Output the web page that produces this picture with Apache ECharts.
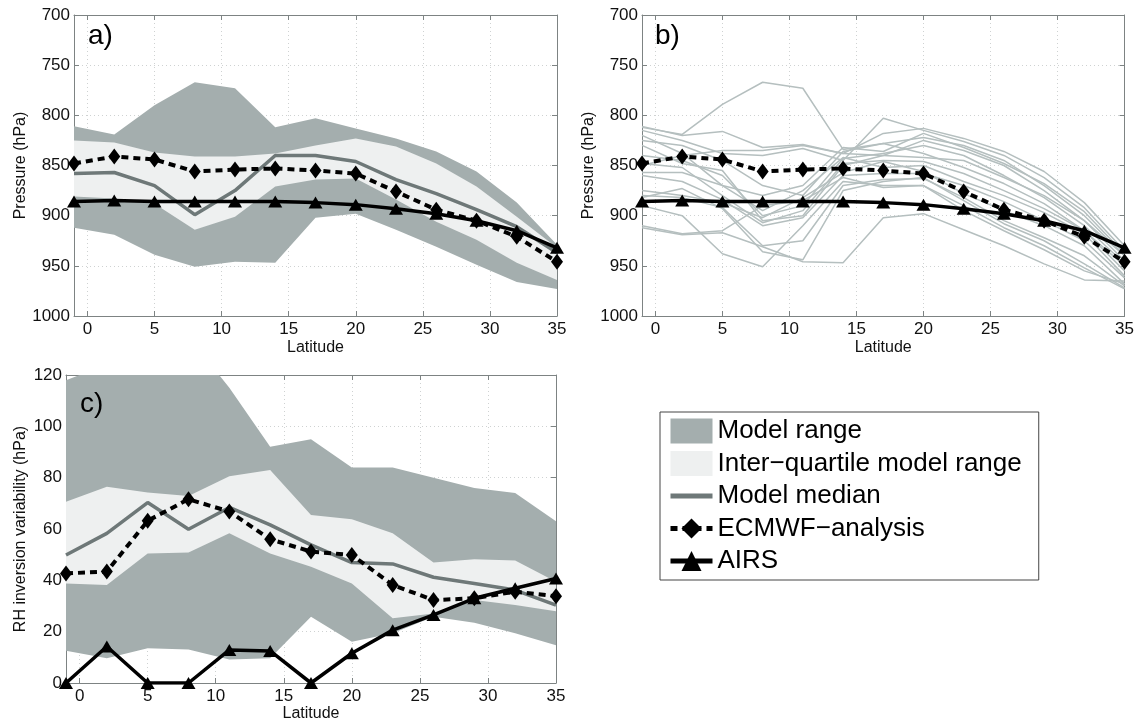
<!DOCTYPE html>
<html><head><meta charset="utf-8">
<script src="https://cdn.jsdelivr.net/npm/echarts@6/dist/echarts.min.js"></script>
<style>html,body{margin:0;padding:0;background:#fff}#c{width:1137px;height:724px}</style>
</head><body><div id="c"></div>
<script>
// ---------- data ----------
const lat = [-1, 2, 5, 8, 11, 14, 17, 20, 23, 26, 29, 32, 35];
const xTicks = [0, 5, 10, 15, 20, 25, 30, 35];

// panel a: inversion pressure (hPa)
const aRangeTop    = [811, 819, 790, 767, 773, 812, 803, 813, 823, 836, 856, 887, 929];
const aRangeBottom = [912, 919, 939, 951, 946, 947, 902, 898, 914, 931, 949, 966, 973];
const aIqrTop      = [825, 827, 837, 841, 841, 838, 830, 823, 831, 848, 871, 901, 932];
const aIqrBottom   = [881, 883, 888, 914, 901, 871, 864, 863, 884, 906, 924, 947, 964];
const aMedian      = [858, 857, 870, 899, 875, 840, 840, 846, 864, 878, 894, 911, 937];
const ecmwfP       = [848, 841, 844, 856, 854, 853, 855, 858, 876, 894, 905, 921, 946];
const airsP        = [886, 885, 886, 886, 886, 886, 887, 889, 893, 898, 905, 915, 932];

// panel b: individual models (hPa)
const modelLines = [
  [812, 819, 789, 767, 773, 834, 828, 838, 852, 868, 888, 915, 950],
  [912, 919, 917, 931, 946, 947, 902, 898, 914, 930, 948, 964, 965],
  [811, 820, 816, 832, 829, 838, 818, 813, 823, 836, 856, 887, 930],
  [815, 825, 838, 840, 833, 845, 803, 815, 826, 840, 862, 892, 935],
  [825, 830, 845, 870, 880, 836, 828, 822, 830, 845, 870, 900, 940],
  [830, 848, 855, 905, 900, 850, 840, 825, 835, 850, 875, 905, 945],
  [840, 845, 860, 900, 890, 843, 838, 830, 840, 860, 882, 910, 948],
  [848, 852, 880, 907, 895, 848, 845, 846, 858, 875, 893, 915, 955],
  [857, 857, 870, 895, 875, 842, 852, 850, 866, 880, 897, 918, 960],
  [860, 866, 884, 910, 902, 860, 858, 858, 870, 886, 905, 925, 962],
  [875, 880, 887, 902, 882, 857, 846, 856, 878, 895, 910, 930, 968],
  [880, 882, 892, 930, 925, 870, 864, 863, 882, 905, 922, 940, 970],
  [882, 873, 893, 936, 944, 875, 866, 862, 885, 908, 925, 948, 972],
  [890, 900, 938, 951, 910, 866, 870, 870, 890, 912, 930, 952, 973],
  [910, 918, 915, 890, 885, 862, 872, 870, 895, 915, 934, 955, 968],
  [850, 840, 835, 835, 830, 838, 840, 842, 845, 862, 880, 905, 940],
  [820, 838, 870, 880, 870, 832, 836, 818, 832, 848, 868, 896, 938]
];

// panel c: RH inversion variability (hPa)
const cRangeTop    = [118, 124, 128, 135, 115, 92, 95, 84, 84, 80, 76, 74, 63];
const cRangeBottom = [12.6, 9.6, 13.5, 13.1, 9.2, 9.6, 25.8, 16.1, 19.4, 25.8, 23.5, 19.4, 14.7];
const cIqrTop      = [70.6, 76.5, 74.2, 72.9, 80.6, 83, 65.5, 63.8, 58.3, 46.9, 48.2, 47.7, 39.4];
const cIqrBottom   = [38.8, 38.2, 50.5, 50.8, 58.3, 50.5, 45.3, 38.8, 25.2, 27.1, 32.3, 30.4, 28];
const cMedian      = [49.9, 58.3, 70.3, 59.9, 68.4, 61.6, 53.8, 46.9, 46.4, 41.2, 38.8, 36.2, 30.3];
const cEcmwf       = [42.7, 43.4, 63.2, 71.6, 66.8, 56, 51.2, 49.9, 38.2, 32.3, 33, 35.6, 33.8];
const cAirs        = [0, 14.2, 0, 0, 12.9, 12.5, 0, 11.6, 20.6, 26.5, 33, 36.9, 40.7];

// ---------- styling ----------
const FONT = '"Liberation Sans", Arial, Helvetica, sans-serif';
const AX = '#7d8383';
const DARK = '#a4aeae';
const LIGHT = '#eef0f0';
const MED = '#6e7878';
const GRAYLINE = '#b5bfbf';
const NAMES = {
  range: 'Model range', iqr: 'Inter\u2212quartile model range', med: 'Model median',
  ecmwf: 'ECMWF\u2212analysis', airs: 'AIRS'
};

const grids = [
  {left: 74, top: 15, width: 483, height: 301},
  {left: 642, top: 15, width: 483, height: 301},
  {left: 66, top: 375, width: 490, height: 308}
];

const xAxis = [], yAxis = [];
function addAxes(g, yCfg, yName, yGap) {
  const dotted = {show: true, lineStyle: {color: '#cfd2d2', type: [1, 3], width: 1}};
  xAxis.push({
    type: 'value', gridIndex: g, min: -1, max: 35, position: 'bottom',
    axisLine: {show: true, onZero: false, lineStyle: {color: AX, width: 1}},
    axisTick: {show: true, inside: true, length: 5, customValues: xTicks, lineStyle: {color: AX}},
    axisLabel: {customValues: xTicks, color: '#111', fontSize: 17, fontFamily: FONT, margin: 5},
    splitLine: dotted,
    name: 'Latitude', nameLocation: 'middle', nameGap: g === 2 ? 22 : 24,
    nameTextStyle: {color: '#111', fontSize: 16, fontFamily: FONT}
  });
  xAxis.push({
    type: 'value', gridIndex: g, min: -1, max: 35, position: 'top',
    axisLine: {show: true, onZero: false, lineStyle: {color: AX, width: 1}},
    axisTick: {show: true, inside: true, length: 5, customValues: xTicks, lineStyle: {color: AX}},
    axisLabel: {show: false}, splitLine: {show: false}
  });
  yAxis.push(Object.assign({
    type: 'value', gridIndex: g, position: 'left',
    axisLine: {show: true, onZero: false, lineStyle: {color: AX, width: 1}},
    axisTick: {show: true, inside: true, length: 5, lineStyle: {color: AX}},
    axisLabel: {color: '#111', fontSize: 17, fontFamily: FONT, margin: 4, formatter: v => String(v)},
    splitLine: dotted,
    name: yName, nameLocation: 'middle', nameGap: yGap,
    nameTextStyle: {color: '#111', fontSize: 16, fontFamily: FONT}
  }, yCfg));
  yAxis.push(Object.assign({
    type: 'value', gridIndex: g, position: 'right',
    axisLine: {show: true, onZero: false, lineStyle: {color: AX, width: 1}},
    axisTick: {show: true, inside: true, length: 5, lineStyle: {color: AX}},
    axisLabel: {show: false}, splitLine: {show: false}
  }, yCfg));
}
const pCfg = {min: 700, max: 1000, interval: 50, inverse: true};
const cCfg = {min: 0, max: 120, interval: 20};
addAxes(0, pCfg, 'Pressure (hPa)', 45);
addAxes(1, pCfg, 'Pressure (hPa)', 45);
addAxes(2, cCfg, 'RH inversion variability (hPa)', 37);

const series = [];
const pts = arr => lat.map((x, k) => [x, arr[k]]);
// filled band between two boundaries, drawn as one polygon through the axis scales
function band(g, lo, hi, color, name) {
  const data = lat.map((x, k) => [x, lo[k], hi[k]]);
  series.push({
    type: 'custom', name: name, xAxisIndex: g * 2, yAxisIndex: g * 2,
    data: data, encode: {x: 0, y: [1, 2]}, silent: true, z: 1,
    color: color, itemStyle: {color: color},
    renderItem: function (params, api) {
      if (params.dataIndex !== 0) return null;
      const upper = data.map(d => api.coord([d[0], d[2]]));
      const lower = data.map(d => api.coord([d[0], d[1]])).reverse();
      const cs = params.coordSys;
      return {
        type: 'polygon',
        shape: {points: upper.concat(lower)},
        style: {fill: color, stroke: null},
        clipPath: {type: 'rect', shape: {x: cs.x, y: cs.y, width: cs.width, height: cs.height}}
      };
    }
  });
}
function medianLine(g, arr) {
  series.push({
    type: 'line', name: NAMES.med, xAxisIndex: g * 2, yAxisIndex: g * 2, data: pts(arr),
    symbol: 'none', color: MED, itemStyle: {color: MED},
    lineStyle: {color: MED, width: 3.5}, z: 3
  });
}
function ecmwfLine(g, arr) {
  series.push({
    type: 'line', name: NAMES.ecmwf, xAxisIndex: g * 2, yAxisIndex: g * 2, data: pts(arr),
    symbol: 'diamond', symbolSize: [12, 16], color: '#000', itemStyle: {color: '#000'},
    lineStyle: {color: '#000', width: 4, type: [7, 5]}, z: 4
  });
}
function airsLine(g, arr) {
  series.push({
    type: 'line', name: NAMES.airs, xAxisIndex: g * 2, yAxisIndex: g * 2, data: pts(arr),
    symbol: 'triangle', symbolSize: [14, 12], color: '#000', itemStyle: {color: '#000'},
    lineStyle: {color: '#000', width: 3.5}, z: 5
  });
}

// panel a
band(0, aRangeTop, aRangeBottom, DARK, NAMES.range);
band(0, aIqrTop, aIqrBottom, LIGHT, NAMES.iqr);
medianLine(0, aMedian);
ecmwfLine(0, ecmwfP);
airsLine(0, airsP);
// panel b
modelLines.forEach((m, i) => series.push({
  type: 'line', name: 'model' + (i + 1), xAxisIndex: 2, yAxisIndex: 2, data: pts(m),
  symbol: 'none', silent: true, lineStyle: {color: GRAYLINE, width: 1.5}, z: 2
}));
ecmwfLine(1, ecmwfP);
airsLine(1, airsP);
// panel c
band(2, cRangeBottom, cRangeTop, DARK, NAMES.range);
band(2, cIqrBottom, cIqrTop, LIGHT, NAMES.iqr);
medianLine(2, cMedian);
ecmwfLine(2, cEcmwf);
airsLine(2, cAirs);

const chart = echarts.init(document.getElementById('c'), null, {renderer: 'canvas'});
chart.setOption({
  animation: false,
  backgroundColor: '#fff',
  grid: grids,
  xAxis: xAxis,
  yAxis: yAxis,
  series: series,
  legend: {
    orient: 'vertical', left: 660, top: 412,
    itemWidth: 42, itemHeight: 25, itemGap: 6.5,
    padding: [6, 17, 6, 8],
    borderColor: '#444', borderWidth: 1, backgroundColor: '#fff',
    selectedMode: false,
    itemStyle: {borderWidth: 0},
    textStyle: {fontSize: 26, lineHeight: 26, fontFamily: FONT, color: '#000'},
    data: [
      {name: NAMES.range, icon: 'rect', itemStyle: {color: DARK, borderWidth: 0}},
      {name: NAMES.iqr, icon: 'rect', itemStyle: {color: LIGHT, borderWidth: 0}},
      {name: NAMES.med, icon: 'path://M0,0L0.01,0M0,10L42,10L42,15L0,15ZM0,25L0.01,25',
       itemStyle: {color: MED, borderWidth: 0}},
      {name: NAMES.ecmwf, lineStyle: {width: 5}},
      {name: NAMES.airs, lineStyle: {width: 5}}
    ]
  },
  graphic: [
    {type: 'text', left: 88, top: 22, z: 100, style: {text: 'a)', font: '28px ' + FONT, fill: '#000'}},
    {type: 'text', left: 655, top: 22, z: 100, style: {text: 'b)', font: '28px ' + FONT, fill: '#000'}},
    {type: 'text', left: 80, top: 390, z: 100, style: {text: 'c)', font: '28px ' + FONT, fill: '#000'}}
  ]
});
</script></body></html>
